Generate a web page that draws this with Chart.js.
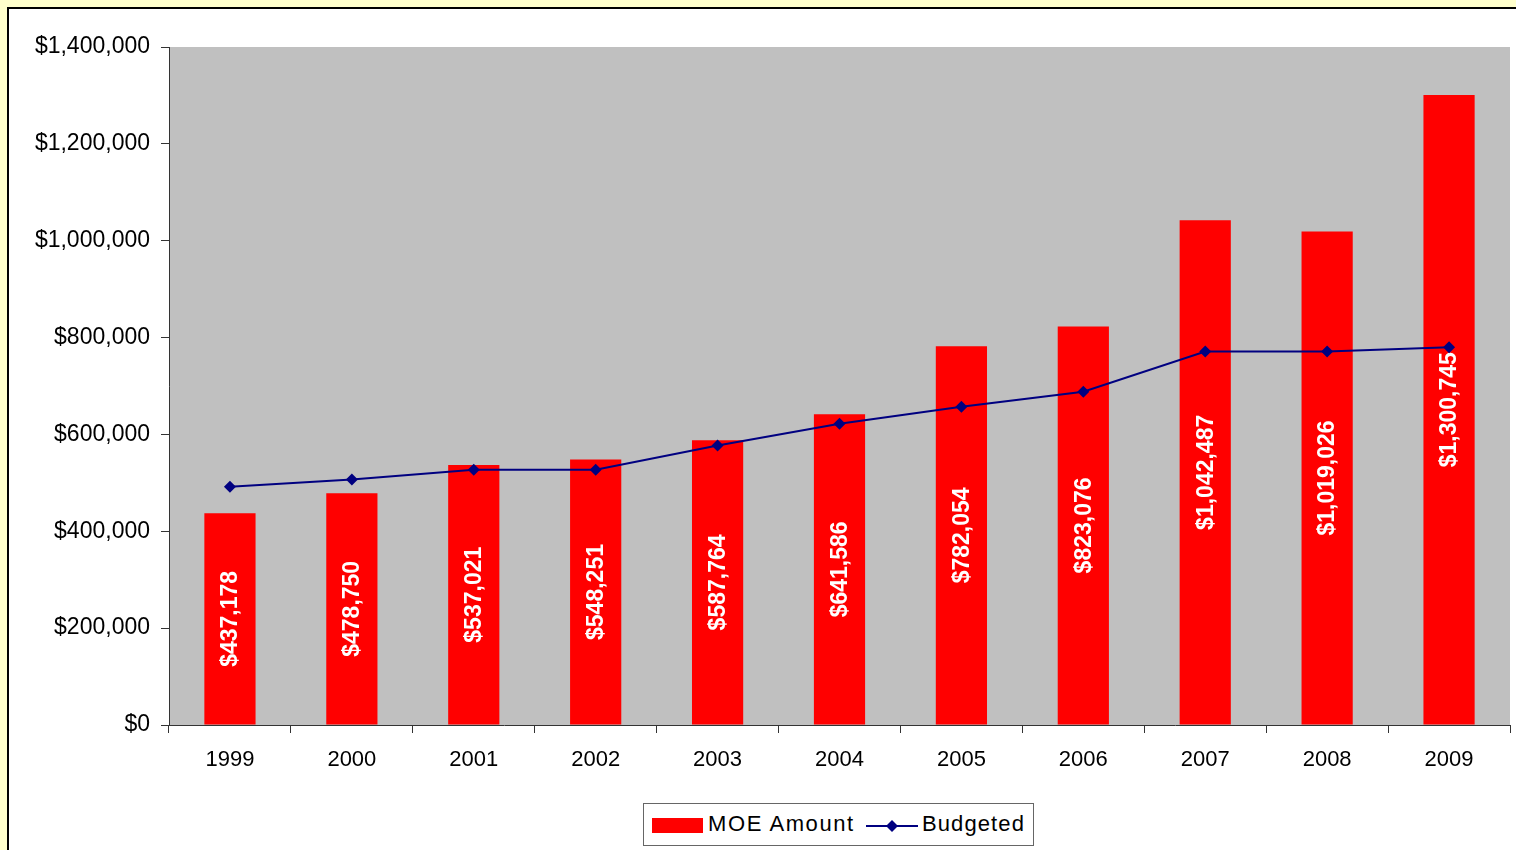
<!DOCTYPE html>
<html>
<head>
<meta charset="utf-8">
<script src="https://cdn.jsdelivr.net/npm/chart.js@4.4.1/dist/chart.umd.min.js"></script>
<style>
  body { margin: 0; background: #ffffcc; overflow: hidden; font-family: "Liberation Sans", Arial, sans-serif; }
  #frame { position: absolute; left: 7px; top: 7px; width: 1600px; height: 900px; background: #fff; border-left: 2px solid #000; border-top: 2px solid #000; }
  #chartMoe { position: absolute; left: 0; top: 0; }
  #legend { position: absolute; left: 643px; top: 803px; width: 389px; height: 41px; border: 1px solid #666; background: #fff; font-size: 22px; color: #000; }
  #legend span { position: absolute; top: 7px; white-space: nowrap; }
</style>
</head>
<body>
<div id="frame"></div>
<canvas id="chartMoe" width="1516" height="850"></canvas>
<div id="legend">
  <div style="position:absolute;left:8px;top:14px;width:51px;height:15px;background:#ff0000"></div>
  <span style="left:64px;letter-spacing:1.6px">MOE Amount</span>
  <svg style="position:absolute;left:222px;top:14px" width="52" height="16">
    <line x1="0" y1="8" x2="52" y2="8" stroke="#000080" stroke-width="2"/>
    <polygon points="26,2 32,8 26,14 20,8" fill="#000080"/>
  </svg>
  <span style="left:278px;letter-spacing:1.1px">Budgeted</span>
</div>
<script>
const years = ['1999', '2000', '2001', '2002', '2003', '2004', '2005', '2006', '2007', '2008', '2009'];
const moeAmount = [437178, 478750, 537021, 548251, 587764, 641586, 782054, 823076, 1042487, 1019026, 1300745];
const budgeted = [492000, 507000, 527000, 527000, 577000, 622000, 657000, 688000, 771000, 771000, 780000];
const yTicks = [0, 200000, 400000, 600000, 800000, 1000000, 1200000, 1400000];

const money = v => '$' + Number(v).toLocaleString('en-US');
const fontFamily = '"Liberation Sans", Arial, sans-serif';

// gray plot background
const plotBg = {
    id: 'plotBg',
    beforeDraw(chart) {
        const a = chart.chartArea;
        const ctx = chart.ctx;
        ctx.save();
        ctx.fillStyle = '#c0c0c0';
        ctx.fillRect(a.left, a.top, a.right - a.left, a.bottom - a.top);
        ctx.restore();
    }
};

// white rotated values in the middle of each bar
const barValues = {
    id: 'barValues',
    afterDatasetDraw(chart, args) {
        if (args.index !== 0) return;
        const ctx = chart.ctx;
        ctx.save();
        ctx.fillStyle = '#fff';
        ctx.font = 'bold 23px ' + fontFamily;
        ctx.textAlign = 'center';
        ctx.textBaseline = 'middle';
        args.meta.data.forEach((bar, i) => {
            ctx.save();
            ctx.translate(bar.x + 1, (bar.y + bar.base) / 2);
            ctx.rotate(-Math.PI / 2);
            ctx.fillText(money(moeAmount[i]), 0, 0);
            ctx.restore();
        });
        ctx.restore();
    }
};

const data = {
    labels: years,
    datasets: [{
        type: 'bar',
        label: 'MOE Amount',
        data: moeAmount,
        backgroundColor: '#ff0000',
        barPercentage: 0.42,
        categoryPercentage: 1,
        order: 2
    }, {
        type: 'line',
        label: 'Budgeted',
        data: budgeted,
        borderColor: '#000080',
        backgroundColor: '#000080',
        borderWidth: 2,
        pointStyle: 'rectRot',
        pointRadius: 6,
        pointBorderWidth: 0,
        tension: 0,
        order: 1
    }]
};

const config = {
    data,
    options: {
        responsive: false,
        animation: false,
        layout: { padding: { left: 0, top: 47, right: 4, bottom: 65 } },
        plugins: { legend: { display: false }, tooltip: { enabled: false } },
        scales: {
            x: {
                offset: true,
                grid: { offset: true, drawOnChartArea: false, tickLength: 8, color: '#333' },
                border: { color: '#333' },
                ticks: { color: '#000', font: { size: 22, family: fontFamily }, padding: 14, maxRotation: 0 },
                afterFit(scale) {
                    scale.height = 60;
                    scale.paddingLeft = 0;
                    scale.paddingRight = 0;
                }
            },
            y: {
                min: 0,
                max: 1400000,
                afterBuildTicks(scale) { scale.ticks = yTicks.map(v => ({ value: v })); },
                grid: { drawOnChartArea: false, tickLength: 8, color: '#333' },
                border: { color: '#333' },
                ticks: { color: '#000', font: { size: 23, family: fontFamily }, padding: 11, callback: v => money(v) },
                afterFit(scale) { scale.width = 169; }
            }
        }
    },
    plugins: [plotBg, barValues]
};

const chartMoe = new Chart(document.getElementById('chartMoe'), config);
</script>
</body>
</html>
